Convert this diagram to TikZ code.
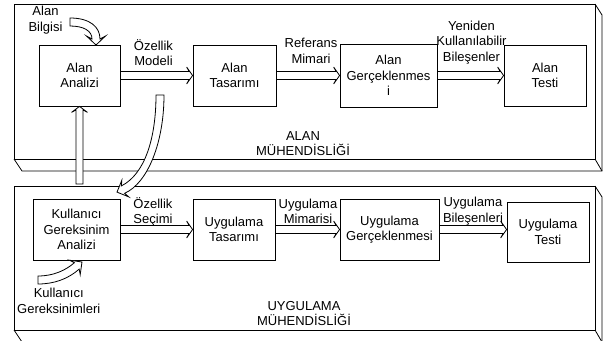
\documentclass[tikz,border=0pt]{standalone}
\usepackage{fontspec}
\setmainfont{Liberation Sans}
\usetikzlibrary{calc}
\begin{document}
\begin{tikzpicture}[x=0.75pt,y=-0.75pt,
  every node/.style={font=\fontsize{9.75}{11.5}\selectfont, inner sep=0pt, align=center},
  panel/.style={draw, line width=0.6pt, line join=miter},
  stage/.style args={#1x#2}{draw, line width=0.6pt, fill=white,
    minimum width=#1*0.75pt, minimum height=#2*0.75pt},
  outline/.style={draw, fill=white, line width=0.6pt, line join=miter},
  hollow right/.style={outline, to path={
    ($(\tikztostart)+(0,-4)$) -- ($(\tikztotarget)+(-3.5,-4)$) -- ($(\tikztotarget)+(-6,-8.5)$)
    -- (\tikztotarget) -- ($(\tikztotarget)+(-6,8.5)$) -- ($(\tikztotarget)+(-3.5,4)$)
    -- ($(\tikztostart)+(0,4)$) -- cycle}},
  hollow up/.style={outline, to path={
    ($(\tikztostart)+(-3.5,0)$) -- ($(\tikztotarget)+(-3.5,3.5)$) -- ($(\tikztotarget)+(-8,6)$)
    -- (\tikztotarget) -- ($(\tikztotarget)+(8,6)$) -- ($(\tikztotarget)+(3.5,3.5)$)
    -- ($(\tikztostart)+(3.5,0)$) -- cycle}}]
\useasboundingbox (0,0) rectangle (606,340);

% raised panel: domain engineering
\draw[panel] (14,4) rectangle (595,159);
\draw[panel] (595,4) -- (602,15) -- (602,171) -- (22,171) -- (14,159);
\draw[panel] (595,159) -- (602,171);
% raised panel: application engineering
\draw[panel] (14,186) rectangle (595,330);
\draw[panel] (595,186) -- (602,197) -- (602,342) -- (22,342) -- (14,330);
\draw[panel] (595,330) -- (602,342);

\node (alanlbl) at (303,143.5) {ALAN\\MÜHENDİSLİĞİ};
\node (uyglbl) at (304,313.5) {UYGULAMA\\MÜHENDİSLİĞİ};

% domain engineering stages
\node[stage=81x61] (aa) at (79.5,75.5) {Alan\\Analizi};
\node[stage=83x61] (at) at (234.5,75.5) {Alan\\Tasarımı};
\node[stage=97x63] (ag) at (388.5,75.5) {Alan\\Gerçeklenmes\\i};
\node[stage=82x61] (ate) at (545,75.5) {Alan\\Testi};

% application engineering stages
\node[stage=87x61] (kg) at (76.5,229.5) {Kullanıcı\\Gereksinim\\Analizi};
\node[stage=82x61] (ut) at (234,229.5) {Uygulama\\Tasarımı};
\node[stage=99x61] (ug) at (389.5,229.5) {Uygulama\\Gerçeklenmesi};
\node[stage=82x60] (ute) at (548,232) {Uygulama\\Testi};

% flow between stages
\draw[hollow right] (aa.east) to (at.west);
\draw[hollow right] (at.east) to (ag.west);
\draw[hollow right] (ag.east) to (ate.west);
\draw[hollow right] (kg.east) to (ut.west);
\draw[hollow right] (ut.east) to (ug.west);
\draw[hollow right] (ug.east) to (ug.east -| ute.west);

% feedback from application engineering up to domain analysis
\coordinate (upstart) at (79.5,184);
\draw[hollow up] (upstart) to (aa.south);

% domain knowledge into domain analysis
\path[outline] (70,18) .. controls (90,18) and (100,27) .. (100,39) -- (105.5,36) -- (96,45)
  -- (86.5,36) -- (92,39) .. controls (92,31) and (84,26) .. (70,26) -- cycle;
% feature model down to requirements analysis
\path[outline] (164,95) .. controls (164,142) and (148,183) .. (124.6,193.3) -- (128.8,196.9)
  -- (117,192.1) -- (121.8,180.3) -- (121.4,185.9) .. controls (145,174) and (156,138) .. (156,95) -- cycle;
% user requirements into requirements analysis
\path[outline] (38,276) .. controls (54,276) and (66,270) .. (74.4,262.7) -- (69.4,260.2) -- (82,262)
  -- (80.2,274.6) -- (79.2,269.1) .. controls (68,279) and (54,284) .. (38,284) -- cycle;

% labels
\node (lbil) at (45.5,20) {Alan\\Bilgisi};
\node (lkul) at (58.7,301) {Kullanıcı\\Gereksinimleri};
\node (l1) at (153.5,52.5) {Özellik\\Modeli};
\node (l2) at (311,51) {Referans\\Mimari};
\node (l3) at (471.5,42.5) {Yeniden\\Kullanılabilir\\Bileşenler};
\node (l4) at (153,212) {Özellik\\Seçimi};
\node (l5) at (308,211.5) {Uygulama\\Mimarisi};
\node (l6) at (473,211) {Uygulama\\Bileşenleri};
\end{tikzpicture}
\end{document}
